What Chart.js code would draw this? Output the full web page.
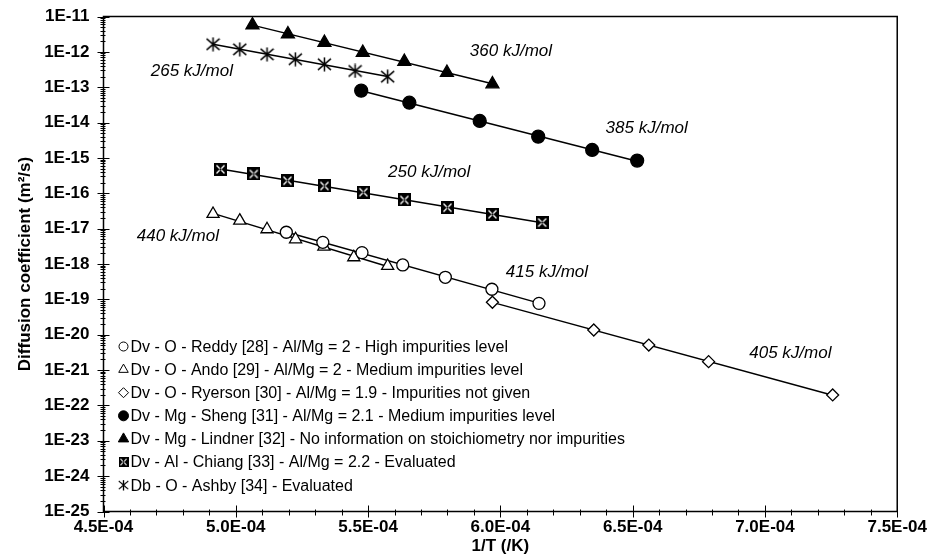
<!DOCTYPE html>
<html>
<head>
<meta charset="utf-8">
<script src="https://cdn.jsdelivr.net/npm/chart.js@4/dist/chart.umd.min.js"></script>
<style>
  body { margin: 0; background: #fff; }
  #wrap { position: relative; width: 933px; height: 560px; }
</style>
</head>
<body>
<div id="wrap"><canvas id="myChart"></canvas></div>
<script>
// values (1/T in 1/K, D in m2/s)
const reddyX = [5.191e-4, 5.329e-4, 5.477e-4, 5.631e-4, 5.792e-4, 5.968e-4, 6.146e-4];
const reddyY = [7.9e-18, 4.1e-18, 2.1e-18, 9.4e-19, 4.2e-19, 1.93e-19, 7.7e-20];

const andoX = [4.914e-4, 5.015e-4, 5.118e-4, 5.226e-4, 5.333e-4, 5.446e-4, 5.574e-4];
const andoY = [2.6e-17, 1.68e-17, 9.6e-18, 5.0e-18, 3.1e-18, 1.55e-18, 8.8e-19];

const ryersonX = [5.970e-4, 6.353e-4, 6.561e-4, 6.787e-4, 7.256e-4];
const ryersonY = [8.3e-20, 1.36e-20, 5.1e-21, 1.73e-21, 1.98e-22];

const shengX = [5.474e-4, 5.656e-4, 5.922e-4, 6.143e-4, 6.347e-4, 6.517e-4];
const shengY = [8.0e-14, 3.65e-14, 1.11e-14, 4.0e-15, 1.68e-15, 8.4e-16];

const lindnerX = [5.063e-4, 5.197e-4, 5.335e-4, 5.480e-4, 5.637e-4, 5.798e-4, 5.970e-4];
const lindnerY = [5.75e-12, 3.2e-12, 1.82e-12, 9.5e-13, 5.3e-13, 2.58e-13, 1.23e-13];

const chiangX = [4.942e-4, 5.068e-4, 5.195e-4, 5.335e-4, 5.482e-4, 5.637e-4, 5.800e-4, 5.970e-4, 6.158e-4];
const chiangY = [4.77e-16, 3.52e-16, 2.27e-16, 1.61e-16, 1.07e-16, 6.46e-17, 3.9e-17, 2.55e-17, 1.48e-17];

const ashbyX = [4.914e-4, 5.015e-4, 5.118e-4, 5.225e-4, 5.335e-4, 5.451e-4, 5.574e-4];
const ashbyY = [1.64e-12, 1.18e-12, 8.5e-13, 6.2e-13, 4.45e-13, 2.88e-13, 1.99e-13];

const seriesNames = [
  'Dv - O - Reddy [28] - Al/Mg = 2 - High impurities level',
  'Dv - O - Ando [29] - Al/Mg = 2 - Medium impurities level',
  'Dv - O - Ryerson [30] - Al/Mg = 1.9 - Impurities not given',
  'Dv - Mg - Sheng [31] - Al/Mg = 2.1 - Medium impurities level',
  'Dv - Mg - Lindner [32] - No information on stoichiometry nor impurities',
  'Dv - Al - Chiang [33] - Al/Mg = 2.2 - Evaluated',
  'Db - O - Ashby [34] - Evaluated'
];

const energyLabels = ['360 kJ/mol', '265 kJ/mol', '385 kJ/mol', '250 kJ/mol', '440 kJ/mol', '415 kJ/mol', '405 kJ/mol'];
const energyX = [6.04e-4, 4.834e-4, 6.553e-4, 5.731e-4, 4.781e-4, 6.176e-4, 7.096e-4];
const energyY = [1.06e-12, 2.9e-13, 7.0e-15, 4.0e-16, 6.2e-18, 5.9e-19, 3.05e-21];

const xTickValues = [4.5e-4, 5.0e-4, 5.5e-4, 6.0e-4, 6.5e-4, 7.0e-4, 7.5e-4];
const yTickValues = [1e-25, 1e-24, 1e-23, 1e-22, 1e-21, 1e-20, 1e-19, 1e-18, 1e-17, 1e-16, 1e-15, 1e-14, 1e-13, 1e-12, 1e-11];

const FONT = '"Liberation Sans", Arial, sans-serif';

// custom markers
function boxX(size) {
  const c = document.createElement('canvas');
  c.width = c.height = size;
  const g = c.getContext('2d');
  const s = size;
  g.fillStyle = '#000';
  g.fillRect(0, 0, s, s);
  g.strokeStyle = '#fff';
  g.lineWidth = 1.4;
  g.beginPath();
  g.moveTo(2.5, 2.5); g.lineTo(s - 2.5, s - 2.5);
  g.moveTo(s - 2.5, 2.5); g.lineTo(2.5, s - 2.5);
  g.stroke();
  g.fillStyle = '#000';
  g.fillRect(s / 2 - 1, s / 2 - 1, 2, 2);
  return c;
}

function asterisk(size) {
  const c = document.createElement('canvas');
  c.width = c.height = size;
  const g = c.getContext('2d');
  const h = size / 2;
  g.strokeStyle = '#000';
  g.lineWidth = 1.5;
  g.beginPath();
  g.moveTo(h, 0.5); g.lineTo(h, size - 0.5);
  g.moveTo(1, h - h * 0.75); g.lineTo(size - 1, h + h * 0.75);
  g.moveTo(size - 1, h - h * 0.75); g.lineTo(1, h + h * 0.75);
  g.stroke();
  return c;
}

const boxMark = boxX(13);
const starMark = asterisk(15);

function fitLine(xs, ys) {
  const n = xs.length;
  const mx = xs.reduce((a, b) => a + b, 0) / n;
  const ly = ys.map(v => Math.log10(v));
  const my = ly.reduce((a, b) => a + b, 0) / n;
  let sxy = 0, sxx = 0;
  xs.forEach((x, i) => { sxy += (x - mx) * (ly[i] - my); sxx += (x - mx) * (x - mx); });
  const b = sxy / sxx;
  const x0 = Math.min(...xs), x1 = Math.max(...xs);
  return [{x: x0, y: Math.pow(10, my + b * (x0 - mx))}, {x: x1, y: Math.pow(10, my + b * (x1 - mx))}];
}

const series = [
  {xs: reddyX, ys: reddyY, style: 'circle', r: 6, fill: '#fff', lr: 4.5},
  {xs: andoX, ys: andoY, style: 'triangle', r: 7, fill: '#fff', lr: 5.5},
  {xs: ryersonX, ys: ryersonY, style: 'rectRot', r: 6, fill: '#fff', lr: 5},
  {xs: shengX, ys: shengY, style: 'circle', r: 6.5, fill: '#000', lr: 5},
  {xs: lindnerX, ys: lindnerY, style: 'triangle', r: 7.5, fill: '#000', lr: 6},
  {xs: chiangX, ys: chiangY, style: boxMark, r: 6, fill: '#000', lr: 5},
  {xs: ashbyX, ys: ashbyY, style: starMark, r: 7, fill: '#000', lr: 5.5}
];

const datasets = [];
series.forEach((s, i) => {
  datasets.push({
    label: seriesNames[i],
    data: s.xs.map((x, j) => ({x: x, y: s.ys[j]})),
    showLine: false,
    pointStyle: s.style,
    pointRadius: s.r,
    pointBackgroundColor: s.fill,
    pointBorderColor: '#000',
    pointBorderWidth: 1.3,
    order: 0
  });
  datasets.push({
    label: '',
    data: fitLine(s.xs, s.ys),
    showLine: true,
    pointRadius: 0,
    borderColor: '#000',
    borderWidth: 1.5,
    order: 1
  });
});

function drawSymbol(ctx, s, x, y) {
  const r = s.lr;
  if (typeof s.style !== 'string') {
    ctx.drawImage(s.style, x - r, y - r, 2 * r, 2 * r);
    return;
  }
  ctx.beginPath();
  if (s.style === 'circle') {
    ctx.arc(x, y, r, 0, Math.PI * 2);
  } else if (s.style === 'triangle') {
    ctx.moveTo(x, y - r);
    ctx.lineTo(x + r * 0.866, y + r * 0.5);
    ctx.lineTo(x - r * 0.866, y + r * 0.5);
    ctx.closePath();
  } else if (s.style === 'rectRot') {
    ctx.moveTo(x, y - r); ctx.lineTo(x + r, y); ctx.lineTo(x, y + r); ctx.lineTo(x - r, y);
    ctx.closePath();
  }
  ctx.fillStyle = s.fill;
  ctx.fill();
  ctx.lineWidth = 1;
  ctx.strokeStyle = '#000';
  ctx.stroke();
}

const extras = {
  id: 'extras',
  afterDatasetsDraw(chart) {
    const {ctx, chartArea: a, scales} = chart;
    const x = scales.x, y = scales.y;
    ctx.save();
    // frame
    ctx.strokeStyle = '#000';
    ctx.lineWidth = 1.5;
    ctx.strokeRect(a.left, a.top, a.right - a.left, a.bottom - a.top);
    // tick marks
    ctx.lineWidth = 1;
    ctx.beginPath();
    xTickValues.forEach((v, i) => {
      const px = Math.round(x.getPixelForValue(v)) + 0.5;
      ctx.moveTo(px, a.bottom - 6); ctx.lineTo(px, a.bottom + 6);
      if (i < xTickValues.length - 1) {
        for (let k = 1; k < 5; k++) {
          const m = Math.round(x.getPixelForValue(v + (xTickValues[i + 1] - v) * k / 5)) + 0.5;
          ctx.moveTo(m, a.bottom - 2); ctx.lineTo(m, a.bottom + 4);
        }
      }
    });
    yTickValues.forEach((v, i) => {
      const py = Math.round(y.getPixelForValue(v)) + 0.5;
      ctx.moveTo(a.left - 6, py); ctx.lineTo(a.left + 6, py);
      if (i < yTickValues.length - 1) {
        for (let m = 2; m < 10; m++) {
          const q = Math.round(y.getPixelForValue(v * m)) + 0.5;
          ctx.moveTo(a.left - 3, q); ctx.lineTo(a.left + 2, q);
        }
      }
    });
    ctx.stroke();

    // activation energy labels
    ctx.fillStyle = '#000';
    ctx.font = 'italic 17px ' + FONT;
    ctx.textAlign = 'center';
    ctx.textBaseline = 'middle';
    energyLabels.forEach((t, i) => {
      ctx.fillText(t, x.getPixelForValue(energyX[i]), y.getPixelForValue(energyY[i]));
    });

    // legend, lower left inside plot
    ctx.font = '16px ' + FONT;
    ctx.textAlign = 'left';
    seriesNames.forEach((t, i) => {
      const ly = a.top + 330 + i * 23.1;
      drawSymbol(ctx, series[i], a.left + 20, ly);
      ctx.fillStyle = '#000';
      ctx.fillText(t, a.left + 27, ly + 1);
    });
    ctx.restore();
  }
};

function expLabel(v) {
  const [m, e] = v.toExponential(1).split('e');
  const n = parseInt(e, 10);
  return m + 'E' + (n < 0 ? '-' : '+') + String(Math.abs(n)).padStart(2, '0');
}

Chart.defaults.color = '#000';
Chart.defaults.font.family = FONT;

new Chart(document.getElementById('myChart'), {
  type: 'scatter',
  data: {datasets: datasets},
  options: {
    responsive: true,
    maintainAspectRatio: false,
    animation: false,
    layout: {padding: {left: 0, top: 16.5, right: 34, bottom: 0}},
    plugins: {legend: {display: false}, tooltip: {enabled: false}},
    scales: {
      x: {
        type: 'linear',
        min: 4.5e-4,
        max: 7.5e-4,
        afterBuildTicks: s => { s.ticks = xTickValues.map(v => ({value: v})); },
        afterFit: s => { s.height = 48.5; },
        grid: {display: false, drawTicks: false},
        border: {display: false},
        ticks: {
          autoSkip: false,
          maxRotation: 0,
          padding: 6,
          font: {size: 17, weight: 'bold'},
          callback: v => expLabel(v)
        },
        title: {display: true, text: '1/T (/K)', font: {size: 17, weight: 'bold'}, padding: {top: 0, bottom: 3}}
      },
      y: {
        type: 'logarithmic',
        min: 1e-25,
        max: 1e-11,
        afterBuildTicks: s => { s.ticks = yTickValues.map(v => ({value: v})); },
        afterFit: s => { s.width = 103.5; s.paddingTop = 6; s.paddingBottom = 6; },
        grid: {display: false, drawTicks: false},
        border: {display: false},
        ticks: {
          autoSkip: false,
          padding: 14,
          font: {size: 17, weight: 'bold'},
          callback: v => '1E' + Math.round(Math.log10(v))
        },
        title: {display: true, text: 'Diffusion coefficient (m²/s)', font: {size: 17, weight: 'bold'}, padding: {top: 15, bottom: 0}}
      }
    }
  },
  plugins: [extras]
});
</script>
</body>
</html>
